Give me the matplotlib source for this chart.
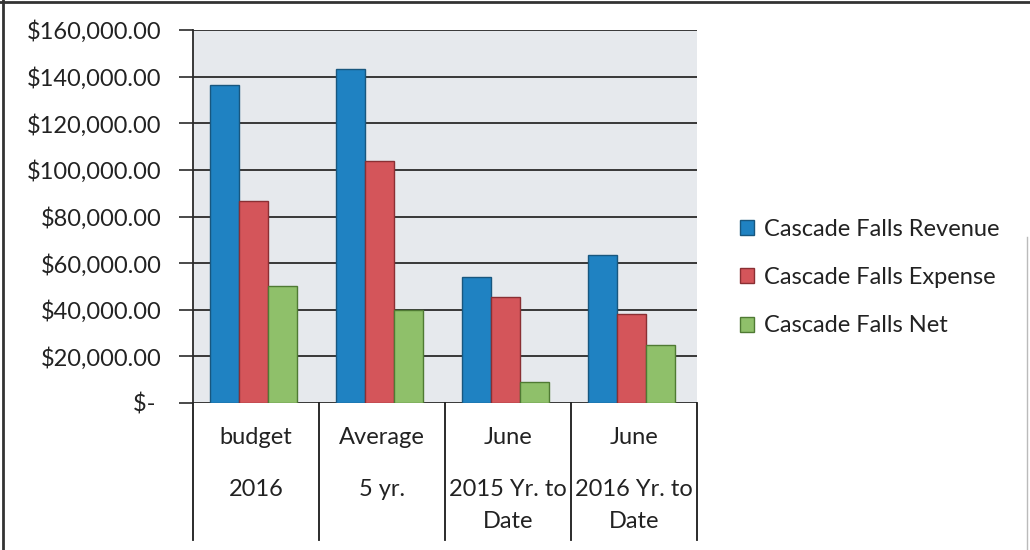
import numpy as np
import matplotlib.pyplot as plt
from matplotlib.ticker import FuncFormatter
from matplotlib.lines import Line2D

plt.rcParams['font.family'] = ['Lato', 'DejaVu Sans']

cat_line1 = ["budget", "Average", "June", "June"]
cat_line2 = ["2016", "5 yr.", "2015 Yr. to", "2016 Yr. to"]
cat_line3 = ["", "", "Date", "Date"]
series = ["Cascade Falls Revenue", "Cascade Falls Expense", "Cascade Falls Net"]
revenue = [136400, 143300, 54100, 63500]
expense = [86700, 103800, 45500, 38200]
net = [50200, 39900, 9000, 24900]
colors = ["#1f82c2", "#d4555a", "#8fc06a"]
edges = ["#18577f", "#8a2f33", "#4f7a33"]

fig = plt.figure(figsize=(10.3, 5.5), dpi=100)
ax = fig.add_axes([193/1030, 1-403/550, 504/1030, 373/550])
ax.set_facecolor("#e6e9ed")

x = np.arange(len(cat_line1))
w = 0.23
for i, vals in enumerate([revenue, expense, net]):
    ax.bar(x + (i-1)*w - 0.02, vals, w, color=colors[i], edgecolor=edges[i],
           linewidth=1.0, label=series[i], zorder=3)

ax.set_xlim(-0.5, 3.5)
ax.set_ylim(0, 160000)
ax.set_yticks(np.arange(0, 160001, 20000))
def fmt(v, pos):
    if v == 0:
        return "$- "
    return "${:,.2f}".format(v)
ax.yaxis.set_major_formatter(FuncFormatter(fmt))
ax.yaxis.grid(True, color="#2a2a2a", linewidth=1.3, zorder=1)
ax.tick_params(axis='y', length=10, width=1.2, color="#2a2a2a", pad=12.5,
               labelsize=17, labelcolor="#222222")
ax.set_xticks([])
for s in ["top", "right", "bottom"]:
    ax.spines[s].set_visible(False)
ax.spines["left"].set_color("#2a2a2a")
ax.spines["left"].set_linewidth(1.3)

# category box below axis
bot = (403-540)/373
tr = ax.get_xaxis_transform()
for b in np.arange(-0.5, 4.0, 1.0):
    ax.add_line(Line2D([b, b], [0, bot], transform=tr,
                       color="#1a1a1a", linewidth=1.3, clip_on=False))
for i in range(len(cat_line1)):
    for txt, yp in [(cat_line1[i], 438), (cat_line2[i], 490), (cat_line3[i], 521)]:
        ax.text(x[i], (403-yp)/373, txt, transform=tr,
                ha="center", va="center", fontsize=17, color="#222222")

fig.legend(loc="center left", bbox_to_anchor=(0.698, 0.495), frameon=False,
           fontsize=17, handlelength=0.6, handleheight=0.6, handletextpad=0.4,
           labelspacing=1.15, labelcolor="#222222")

# outer chart border (top and left as in the scan)
fig.add_artist(Line2D([0, 1], [0.996, 0.996], transform=fig.transFigure,
                      color="#333333", linewidth=2))
fig.add_artist(Line2D([0.003, 0.003], [0, 1], transform=fig.transFigure,
                      color="#333333", linewidth=2))
fig.add_artist(Line2D([0.997, 0.997], [0, 0.57], transform=fig.transFigure,
                      color="#bbbbbb", linewidth=1))

fig.savefig("out.png", dpi=100)
